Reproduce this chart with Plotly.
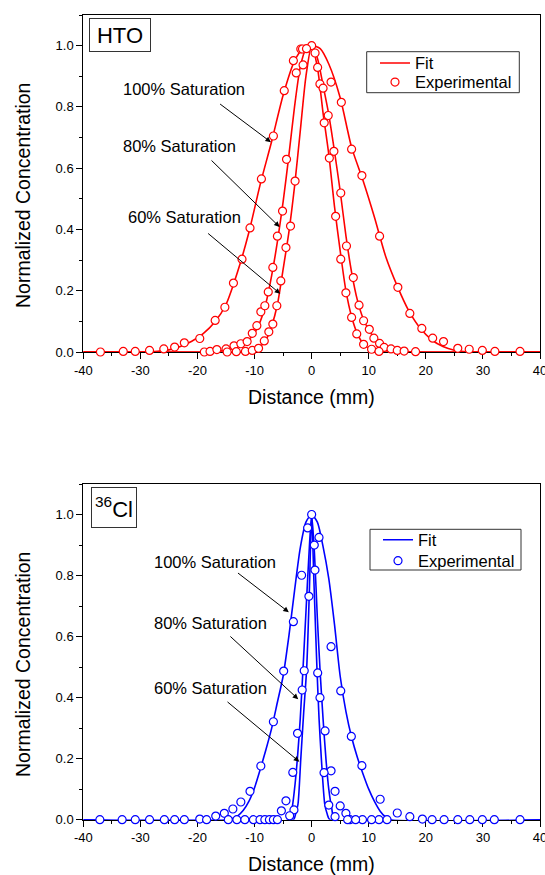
import plotly.graph_objects as go

W, H = 545, 875
RED = "#FF0000"
BLUE = "#0000FF"
FONT = "Liberation Sans, Arial, sans-serif"

# ---------------- tick labels ----------------
x_tickvals = [-40, -30, -20, -10, 0, 10, 20, 30, 40]
x_ticktext = ["-40", "-30", "-20", "-10", "0", "10", "20", "30", "40"]
y_tickvals = [0.0, 0.2, 0.4, 0.6, 0.8, 1.0]
y_ticktext = ["0.0", "0.2", "0.4", "0.6", "0.8", "1.0"]

# ---------------- HTO : experimental ----------------
hto100_x = [-37, -33, -30.9, -28.4, -25.9, -24.0, -22.3, -19.6, -16.9, -15.2, -13.7, -12.2, -10.8, -8.8,
            -6.7, -4.8, -3.2, -1.9, 0, 3.4, 5.2, 7.0, 8.8, 11.9, 15.1, 17.2, 19.3, 21.2, 23.1, 25.6,
            27.6, 29.9, 32.1, 36.5]
hto100_y = [0, 0.002, 0.002, 0.005, 0.01, 0.016, 0.03, 0.044, 0.103, 0.146, 0.225, 0.303, 0.405, 0.565,
            0.705, 0.853, 0.951, 0.989, 1.0, 0.881, 0.815, 0.662, 0.576, 0.378, 0.211, 0.126, 0.077, 0.045,
            0.034, 0.012, 0.009, 0.005, 0.002, 0.002]

hto80_x = [-18.8, -17.8, -16.6, -15.0, -13.6, -12.4, -11.3, -10.4, -9.6, -8.9, -8.2, -7.6, -6.8, -6.0,
           -5.1, -4.4, -2.7, -1.6, 1.45, 2.0, 2.9, 3.9, 5.1, 6.1, 7.3, 8.3, 9.1, 10.1, 10.9, 11.9, 12.7,
           13.9, 15.0, 16.2, 18.2]
hto80_y = [0, 0.002, 0.008, 0.01, 0.02, 0.027, 0.034, 0.061, 0.086, 0.131, 0.151, 0.196, 0.276, 0.378,
           0.46, 0.629, 0.911, 0.989, 0.875, 0.861, 0.772, 0.655, 0.519, 0.346, 0.243, 0.153, 0.102, 0.074,
           0.045, 0.028, 0.015, 0.01, 0.005, 0.003, 0.001]

hto60_x = [-14.8, -13.2, -11.6, -10.4, -9.3, -8.3, -7.5, -6.8, -6.1, -5.4, -4.5, -3.7, -2.9, -1.5, -0.9,
           0.6, 1.05, 2.2, 3.1, 4.2, 5.1, 6.0, 7.0, 7.9, 9.1, 10.5, 11.8]
hto60_y = [0, 0.001, 0.002, 0.005, 0.012, 0.036, 0.066, 0.091, 0.151, 0.232, 0.341, 0.411, 0.558, 0.937,
           0.99, 0.976, 0.929, 0.748, 0.633, 0.443, 0.303, 0.193, 0.113, 0.059, 0.025, 0.009, 0.002]

# ---------------- HTO : fit curves ----------------
hto100_fx = [-40, -30, -27, -25, -23, -21, -19, -17, -15, -13, -11, -9, -7, -5, -3, -1.5, 0, 1.5, 3, 5, 7,
             9, 11, 13, 15, 17, 19, 21, 23, 25, 27, 30, 40]
hto100_fy = [0, 0, 0.002, 0.007, 0.018, 0.035, 0.06, 0.097, 0.155, 0.26, 0.39, 0.548, 0.688, 0.838, 0.95,
             0.99, 1.0, 0.99, 0.94, 0.83, 0.668, 0.56, 0.44, 0.31, 0.215, 0.135, 0.078, 0.04, 0.018, 0.006,
             0.001, 0, 0]

hto80_fx = [-40, -18, -16, -14, -13, -12, -11, -10, -9, -8, -7, -6, -5, -4, -3, -2, -1, 0, 1, 2, 3, 4, 5,
            6, 7, 8, 9, 10, 11, 12, 13, 14, 16, 18, 40]
hto80_fy = [0, 0, 0.003, 0.01, 0.017, 0.026, 0.04, 0.062, 0.1, 0.16, 0.25, 0.36, 0.49, 0.64, 0.8, 0.93,
            0.99, 1.0, 0.96, 0.87, 0.775, 0.655, 0.525, 0.38, 0.26, 0.17, 0.11, 0.072, 0.045, 0.028, 0.016,
            0.009, 0.002, 0, 0]

hto60_fx = [-40, -14, -12, -11, -10, -9, -8, -7, -6, -5, -4, -3, -2, -1, 0, 1, 2, 3, 4, 5, 6, 7, 8, 9,
            10, 11, 12, 14, 40]
hto60_fy = [0, 0, 0.001, 0.003, 0.008, 0.018, 0.04, 0.085, 0.155, 0.27, 0.39, 0.54, 0.72, 0.9, 1.0,
            0.93, 0.78, 0.645, 0.475, 0.33, 0.2, 0.115, 0.06, 0.028, 0.012, 0.004, 0.001, 0, 0]

# ---------------- 36Cl : experimental ----------------
cl100_x = [-37.1, -33.2, -30.9, -28.4, -25.8, -24.0, -22.3, -19.6, -16.8, -15.3, -13.8, -12.4, -10.8,
           -8.9, -6.7, -4.9, -3.2, 0, 1.29, 3.4, 5.1, 6.95, 8.8, 12.0, 15.0, 17.2, 19.4, 21.1, 23.2, 25.6,
           27.7, 29.9, 32.0, 36.5]
cl100_y = [0, 0, 0, 0, 0, 0, 0, 0.002, 0.012, 0.021, 0.035, 0.058, 0.093, 0.176, 0.321, 0.487, 0.649,
           1.0, 0.925, 0.567, 0.422, 0.273, 0.177, 0.067, 0.022, 0.01, 0.002, 0, 0, 0, 0, 0, 0, 0]

cl80_x = [-18.4, -14.6, -13.1, -11.7, -10.2, -9.05, -8.2, -7.4, -6.7, -6.0, -5.3, -4.5, -2.47, -1.66,
          -1.76, 0.46, 1.46, 2.35, 3.4, 4.1, 5.0, 6.0, 6.7, 8.9, 11.8]
cl80_y = [0, 0, 0, 0, 0, 0, 0, 0, 0, 0, 0.029, 0.062, 0.283, 0.425, 0.801, 0.9, 0.4, 0.291, 0.16, 0.093,
          0.045, 0.021, 0, 0, 0]

cl60_x = [-0.7, -0.48, -1.3, -3.3, -3.1, -3.85, 0.58, 1.06, 2.17, 3.0, 4.1, 6.3, 7.7, 10.5, 13.2]
cl60_y = [0.956, 0.732, 0.488, 0.155, 0.032, 0.013, 0.818, 0.481, 0.154, 0.048, 0.01, 0, 0, 0, 0]

# ---------------- 36Cl : fit curves ----------------
cl100_fx = [-40, -15, -14, -13, -12, -11, -10, -9, -8, -7, -6, -5, -4, -3, -2, -1, 0, 1, 2, 3, 4, 5, 6,
            7, 8, 9, 10, 11, 12, 13, 14, 40]
cl100_fy = [0, 0, 0.003, 0.012, 0.03, 0.06, 0.105, 0.165, 0.23, 0.3, 0.385, 0.47, 0.6, 0.75, 0.89, 0.975,
            1.0, 0.975, 0.895, 0.79, 0.64, 0.47, 0.355, 0.27, 0.205, 0.15, 0.1, 0.06, 0.028, 0.008, 0, 0]

cl80_fx = [-40, -4.1, -3.5, -3, -2.5, -2, -1.5, -1, -0.5, 0, 0.5, 1, 1.5, 2, 2.5, 3, 3.5, 4.1, 40]
cl80_fy = [0, 0, 0.03, 0.1, 0.2, 0.33, 0.5, 0.68, 0.86, 1.0, 0.87, 0.66, 0.48, 0.33, 0.2, 0.1, 0.04, 0, 0]

cl60_fx = [-40, -3.2, -2.8, -2.4, -1.9, -1.4, -0.86, -0.4, 0, 0.4, 0.92, 1.3, 1.7, 2.3, 2.7, 3.2, 40]
cl60_fy = [0, 0, 0.02, 0.05, 0.2, 0.35, 0.5, 0.75, 1.0, 0.78, 0.5, 0.33, 0.2, 0.05, 0.02, 0, 0]

# ---------------- figure ----------------
fig = go.Figure()


def add_panel(fits, exps, color, xa, ya, leg_fit, leg_exp):
    for i, (fx, fy) in enumerate(fits):
        fig.add_trace(go.Scatter(
            x=fx, y=fy, mode="lines", name="Fit", showlegend=(i == 0), legend=leg_fit,
            line=dict(color=color, width=1.6, shape="spline", smoothing=0.7),
            xaxis=xa, yaxis=ya, cliponaxis=False))
    for i, (ex, ey) in enumerate(exps):
        fig.add_trace(go.Scatter(
            x=ex, y=ey, mode="markers", name="Experimental", showlegend=(i == 0), legend=leg_exp,
            marker=dict(symbol="circle", size=8, color="white", line=dict(color=color, width=1.2)),
            xaxis=xa, yaxis=ya, cliponaxis=False))


add_panel([(hto100_fx, hto100_fy), (hto80_fx, hto80_fy), (hto60_fx, hto60_fy)],
          [(hto100_x, hto100_y), (hto80_x, hto80_y), (hto60_x, hto60_y)], RED, "x", "y",
          "legend", "legend2")
add_panel([(cl100_fx, cl100_fy), (cl80_fx, cl80_fy), (cl60_fx, cl60_fy)],
          [(cl100_x, cl100_y), (cl80_x, cl80_y), (cl60_x, cl60_y)], BLUE, "x2", "y2",
          "legend3", "legend4")

XD = [83.3 / W, 540.0 / W]
TOP_YD = [1 - 352.0 / H, 1 - 15.0 / H]
BOT_YD = [1 - 819.7 / H, 1 - 484.0 / H]


def xaxis(anchor, dom):
    return dict(domain=dom, anchor=anchor, range=[-40, 40], tickmode="array", tickvals=x_tickvals,
                ticktext=x_ticktext, ticks="outside", ticklen=6, tickwidth=1, tickcolor="black",
                showline=True, linecolor="black", linewidth=1, mirror=True, showgrid=False,
                zeroline=False, layer="below traces", automargin=False, ticklabeloverflow="allow",
                tickfont=dict(size=13, color="black", family=FONT),
                minor=dict(tickmode="linear", tick0=-35, dtick=10, ticks="outside", ticklen=3,
                           tickcolor="black", showgrid=False))


def yaxis(anchor, dom):
    return dict(domain=dom, anchor=anchor, range=[0, 1.1], tickmode="array", tickvals=y_tickvals,
                ticktext=y_ticktext, ticks="outside", ticklen=6, tickwidth=1, tickcolor="black",
                showline=True, linecolor="black", linewidth=1, mirror=True, showgrid=False,
                zeroline=False, layer="below traces", automargin=False, ticklabeloverflow="allow",
                tickfont=dict(size=13, color="black", family=FONT),
                minor=dict(tickmode="linear", tick0=0.1, dtick=0.2, ticks="outside", ticklen=3,
                           tickcolor="black", showgrid=False))


ann = []


def label(text, x, y, xr, yr):
    ann.append(dict(text=text, x=x, y=y, xref=xr, yref=yr, showarrow=False, xanchor="center",
                    yanchor="middle", font=dict(size=16.5, color="black", family=FONT)))


def arrow(hx, hy, tx, ty, xr, yr):
    ann.append(dict(text="", x=hx, y=hy, ax=tx, ay=ty, xref=xr, yref=yr, axref=xr, ayref=yr,
                    showarrow=True, arrowhead=2, arrowsize=1.1, arrowwidth=1, arrowcolor="black"))


# top panel labels / arrows
label("100% Saturation", -22.4, 0.859, "x", "y")
arrow(-7.13, 0.685, -16.3, 0.813, "x", "y")
label("80% Saturation", -23.1, 0.672, "x", "y")
arrow(-5.61, 0.408, -17.8, 0.630, "x", "y")
label("60% Saturation", -22.35, 0.44, "x", "y")
arrow(-5.5, 0.19, -18.4, 0.391, "x", "y")

# bottom panel labels / arrows
label("100% Saturation", -16.9, 0.843, "x2", "y2")
arrow(-4.0, 0.68, -13.17, 0.812, "x2", "y2")
label("80% Saturation", -17.8, 0.643, "x2", "y2")
arrow(-2.35, 0.395, -14.5, 0.605, "x2", "y2")
label("60% Saturation", -17.8, 0.430, "x2", "y2")
arrow(-2.16, 0.19, -15.0, 0.390, "x2", "y2")

# boxed panel names
ann.append(dict(text="HTO", x=119.5 / W, y=1 - 34.5 / H, xref="paper", yref="paper", showarrow=False,
                xanchor="center", yanchor="middle", width=60, height=32, borderpad=0,
                bordercolor="#333333", borderwidth=1, bgcolor="white",
                font=dict(size=22, color="black", family=FONT)))
ann.append(dict(text="<sup>36</sup>Cl", x=113.7 / W, y=1 - 507.8 / H, xref="paper", yref="paper",
                showarrow=False, xanchor="center", yanchor="middle", width=44, height=39, borderpad=0,
                bordercolor="#333333", borderwidth=1, bgcolor="white",
                font=dict(size=22, color="black", family=FONT)))

# axis titles
for yc in (196.0, 665.0):
    ann.append(dict(text="Normalized Concentration", x=23.0 / W, y=1 - yc / H, xref="paper",
                    yref="paper", showarrow=False, textangle=-90, xanchor="center", yanchor="middle",
                    font=dict(size=19.5, color="black", family=FONT)))
for yc in (396.7, 864.0):
    ann.append(dict(text="Distance (mm)", x=311.7 / W, y=1 - yc / H, xref="paper", yref="paper",
                    showarrow=False, xanchor="center", yanchor="middle",
                    font=dict(size=19.5, color="black", family=FONT)))

# legend frames
shapes = [
    dict(type="rect", xref="paper", yref="paper", x0=366.7 / W, x1=519.3 / W, y0=1 - 92.7 / H,
         y1=1 - 51.7 / H, line=dict(color="#333333", width=1), fillcolor="white", layer="below"),
    dict(type="rect", xref="paper", yref="paper", x0=370.0 / W, x1=521.0 / W, y0=1 - 570.0 / H,
         y1=1 - 529.3 / H, line=dict(color="#333333", width=1), fillcolor="white", layer="below"),
]

leg_common = dict(xanchor="left", yanchor="middle", bgcolor="rgba(0,0,0,0)", borderwidth=0,
                  font=dict(size=16.5, color="black", family=FONT), tracegroupgap=0)

fig.update_layout(
    width=W, height=H, margin=dict(l=0, r=0, t=0, b=0),
    paper_bgcolor="white", plot_bgcolor="white",
    font=dict(family=FONT, color="black"),
    xaxis=xaxis("y", XD), yaxis=yaxis("x", TOP_YD),
    xaxis2=xaxis("y2", XD), yaxis2=yaxis("x2", BOT_YD),
    legend=dict(x=375.0 / W, y=1 - 63.3 / H, **leg_common),
    legend2=dict(x=375.0 / W, y=1 - 82.3 / H, **leg_common),
    legend3=dict(x=378.0 / W, y=1 - 540.0 / H, **leg_common),
    legend4=dict(x=378.0 / W, y=1 - 561.0 / H, **leg_common),
    annotations=ann,
    shapes=shapes,
)

# remove the default page margin so the figure sits at the window's top-left corner
fig.write_html("out.html", config={"displayModeBar": False},
               post_script="document.body.style.margin='0px';document.body.style.overflow='hidden';")
